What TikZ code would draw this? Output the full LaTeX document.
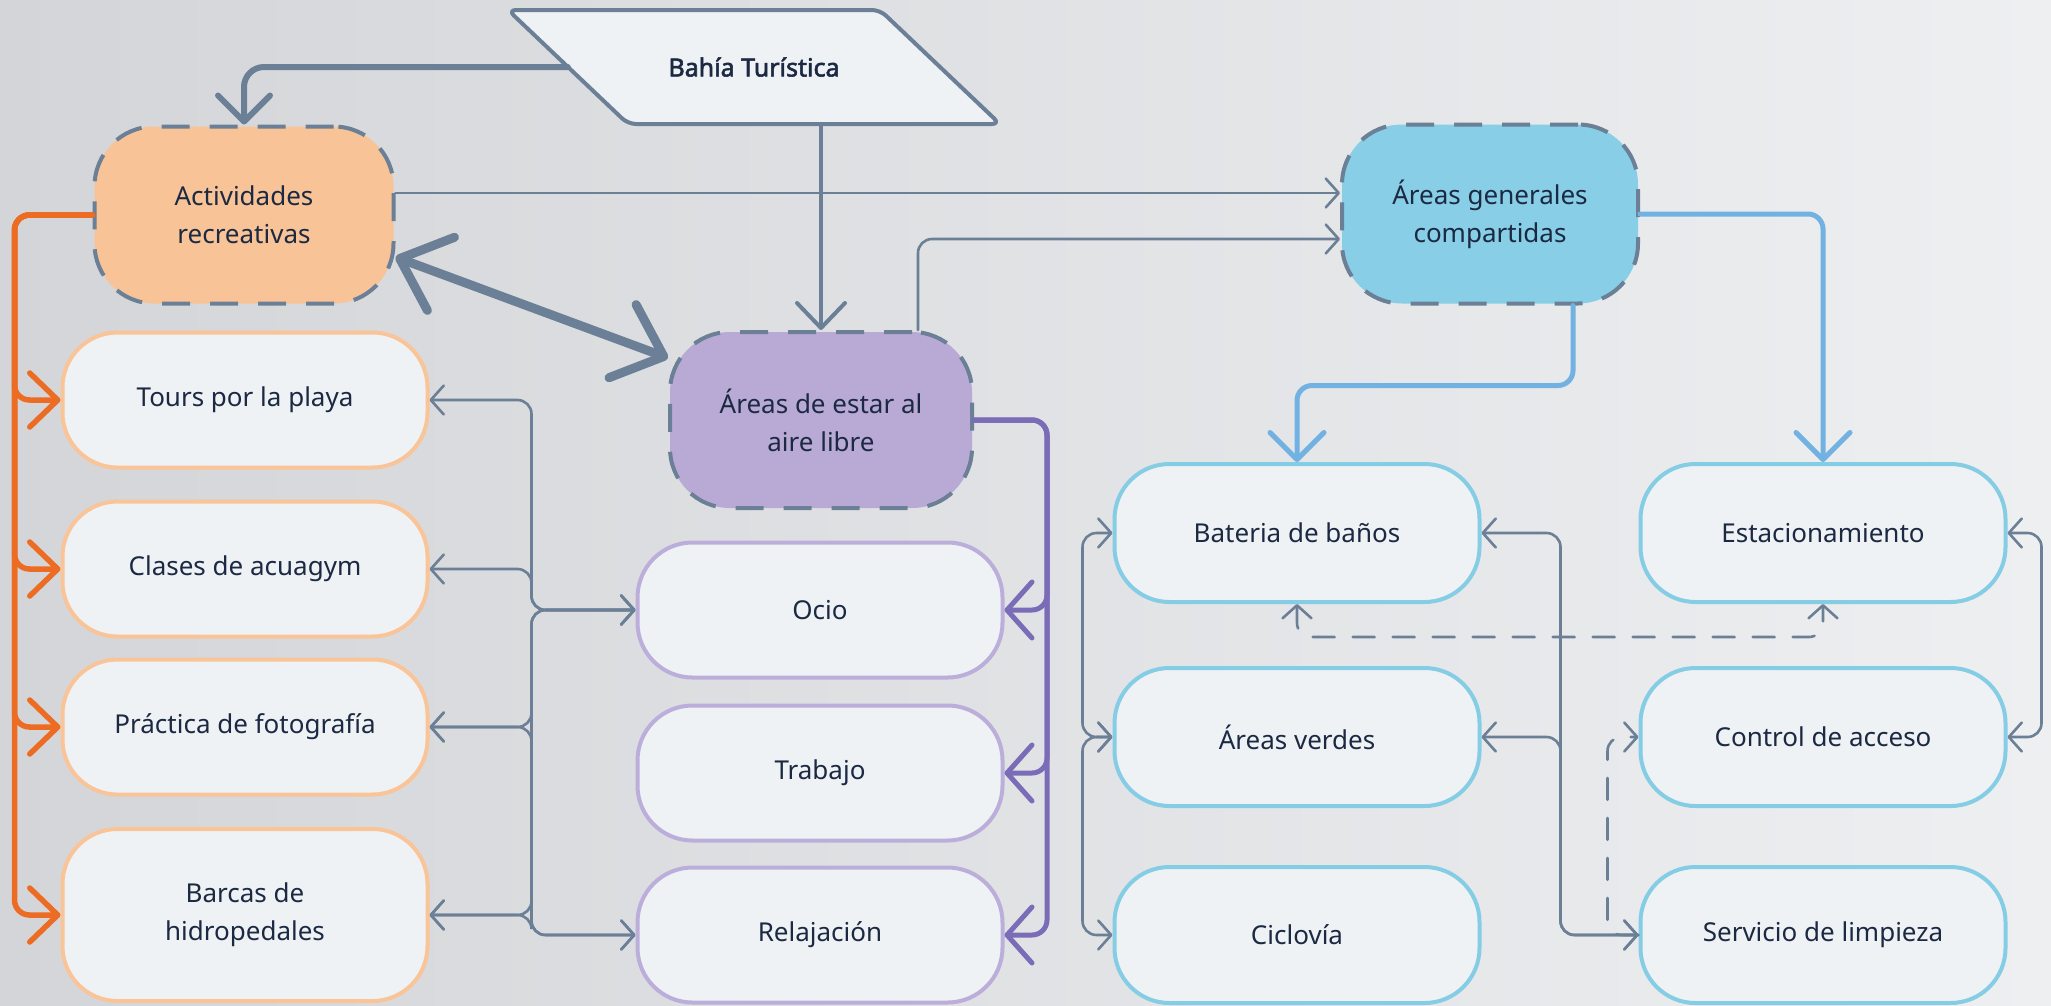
\documentclass[tikz,border=0pt]{standalone}
\usepackage{fontspec}
\setmainfont{Noto Sans}
\newfontfamily\titlefam{Noto Sans}[FakeBold=2.2]
\usetikzlibrary{arrows.meta,calc}
\definecolor{slate}{RGB}{107,127,150}
\definecolor{ink}{RGB}{28,41,66}
\definecolor{nodefill}{RGB}{239,242,245}
\definecolor{peach}{RGB}{248,195,150}
\definecolor{peachline}{RGB}{249,196,152}
\definecolor{orangeline}{RGB}{237,108,35}
\definecolor{lilac}{RGB}{185,170,213}
\definecolor{lilacline}{RGB}{188,174,218}
\definecolor{purpleline}{RGB}{123,108,184}
\definecolor{sky}{RGB}{135,206,230}
\definecolor{skyline}{RGB}{133,205,228}
\definecolor{blueline}{RGB}{114,178,226}
\definecolor{bgdark}{RGB}{212,213,216}
\definecolor{bglight}{RGB}{238,239,241}
\begin{document}
\begin{tikzpicture}[x=1pt,y=-1pt,
  font=\fontsize{26}{38}\selectfont, text=ink,
  box/.style={draw, line width=4pt, fill=nodefill, rounded corners=55pt,
    minimum width=365pt, minimum height=135pt, align=center, inner sep=0pt},
  hub/.style={draw=slate, line width=4pt, dash pattern=on 28pt off 20pt,
    rounded corners=60pt, align=center, inner sep=0pt},
  link/.style={draw=slate, line width=2.6pt, rounded corners=14pt, line cap=round},
  dashlink/.style={link, dash pattern=on 22pt off 18pt},
  la/.style={-{Straight Barb[length=13pt,width=29pt,round]}},
  lb/.style={{Straight Barb[length=13pt,width=29pt,round]}-{Straight Barb[length=13pt,width=29pt,round]}},
  oline/.style={draw=orangeline, line width=5.5pt, rounded corners=15pt, line cap=round,
    -{Straight Barb[length=28pt,width=54pt,round]}},
  pline/.style={draw=purpleline, line width=5pt, rounded corners=15pt, line cap=round,
    -{Straight Barb[length=25pt,width=56pt,round]}},
  bline/.style={draw=blueline, line width=5pt, rounded corners=15pt, line cap=round,
    -{Straight Barb[length=27pt,width=54pt,round]}}
]
\useasboundingbox (0,0) rectangle (2051,1005);
\shade[left color=bgdark, right color=bglight] (0,0) rectangle (2051,1005);

% top parallelogram
\draw[draw=slate, fill=nodefill, line width=4pt, rounded corners=8pt, line join=round]
  (508,10) -- (880,10) -- (1000,124) -- (628,124) -- cycle;
\node[minimum width=372pt, minimum height=114pt, inner sep=0pt,
  font=\fontsize{25}{30}\selectfont\titlefam] (bahia) at (754,67) {Bahía Turística};

% hubs
\node[hub, fill=peach, minimum width=299pt, minimum height=177pt] (act) at (244,215) {Actividades\\recreativas};
\node[hub, fill=lilac, minimum width=302pt, minimum height=176pt] (estar) at (821,420) {Áreas de estar al\\aire libre};
\node[hub, fill=sky, minimum width=296pt, minimum height=179pt] (generales) at (1490,214) {Áreas generales\\compartidas};

% left column
\node[box, draw=peachline] (tours) at (245,400) {Tours por la playa};
\node[box, draw=peachline] (clases) at (245,569) {Clases de acuagym};
\node[box, draw=peachline] (practica) at (245,727) {Práctica de fotografía};
\node[box, draw=peachline, minimum height=172pt] (barcas) at (245,915) {Barcas de\\hidropedales};

% middle column
\node[box, draw=lilacline] (ocio) at (820,610) {Ocio};
\node[box, draw=lilacline] (trabajo) at (820,773) {Trabajo};
\node[box, draw=lilacline] (relaj) at (820,935) {Relajación};

% right columns
\node[box, draw=skyline, minimum height=138pt] (banos) at (1297,533) {Bateria de baños};
\node[box, draw=skyline, minimum height=138pt] (estac) at (1823,533) {Estacionamiento};
\node[box, draw=skyline, minimum height=138pt] (verdes) at (1297,737) {Áreas verdes};
\node[box, draw=skyline, minimum height=138pt] (control) at (1823,737) {Control de acceso};
\node[box, draw=skyline, minimum height=136pt] (ciclo) at (1297,935) {Ciclovía};
\node[box, draw=skyline, minimum height=136pt] (limpieza) at (1823,935) {Servicio de limpieza};

% connectors from the top
\draw[link, line width=6pt, rounded corners=20pt,
  -{Straight Barb[length=26pt,width=52pt,round]}] (bahia.west) -| (act.north);
\draw[link, line width=4pt,
  -{Straight Barb[length=25pt,width=48pt,round]}] (bahia.south -| estar.north) -- (estar.north);
\draw[link, line width=9pt,
  {Straight Barb[length=44pt,width=78pt,round]}-{Straight Barb[length=44pt,width=78pt,round]}]
  ($(act.east)+(0,42)$) -- ($(estar.west)+(0,-62)$);
\draw[link, la] ($(act.east)+(0,-22)$) coordinate (p1) -- (p1 -| generales.west);
\draw[link, la] ($(estar.north)+(97,0)$) |- ($(generales.west)+(0,25)$);

% orange branches
\foreach \t in {tours,clases,practica,barcas}
  \draw[oline] (act.west) -- ++(-78,0) |- (\t.west);

% left gray links
\foreach \a/\b in {tours/ocio,clases/ocio,practica/ocio,barcas/ocio,practica/relaj,barcas/relaj}
  \draw[link, lb] (\a.east) -- ++(102,0) |- (\b.west);

% purple branches
\foreach \t in {ocio,trabajo,relaj}
  \draw[pline] (estar.east) -- ++(73,0) |- (\t.east);

% blue branches
\draw[bline] ($(generales.south)+(83,0)$) -- ++(0,80) -| (banos.north);
\draw[bline] (generales.east) -| (estac.north);

% right gray links
\draw[link, lb] (banos.west) -- ++(-30,0) |- (verdes.west);
\draw[link, lb] (verdes.west) -- ++(-30,0) |- (ciclo.west);
\draw[link, lb] (banos.east) -- ++(79,0) |- (limpieza.west);
\draw[link, lb] (verdes.east) -- ++(79,0) |- (limpieza.west);
\draw[link, lb] (estac.east) -- ++(34,0) |- (control.east);

% dashed links
\draw[dashlink, lb] (banos.south) -- ++(0,33) -| (estac.south);
\draw[dashlink, la] (limpieza.west) -- ++(-31,0) |- (control.west);
\end{tikzpicture}
\end{document}
